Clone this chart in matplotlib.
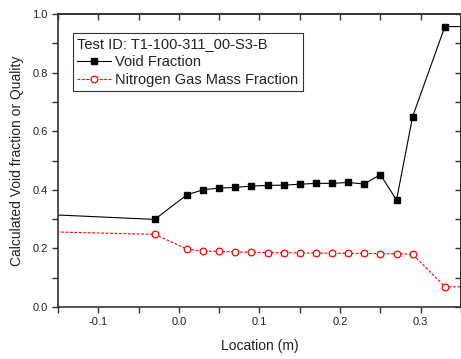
import matplotlib
matplotlib.use("Agg")
import matplotlib.pyplot as plt
from matplotlib.ticker import MultipleLocator

plt.rcParams['font.family'] = ['Liberation Sans', 'DejaVu Sans']
txt = '#222222'

location = [-0.27, -0.03, 0.01, 0.03, 0.05, 0.07, 0.09, 0.11, 0.13, 0.15, 0.17,
            0.19, 0.21, 0.23, 0.25, 0.27, 0.29, 0.33, 0.37]
void_fraction = [0.329, 0.299, 0.383, 0.400, 0.406, 0.408, 0.413, 0.415, 0.416,
                 0.419, 0.422, 0.422, 0.425, 0.420, 0.452, 0.365, 0.650, 0.957, 0.957]
n2_quality = [0.264, 0.248, 0.198, 0.190, 0.190, 0.188, 0.187, 0.186, 0.185,
              0.185, 0.184, 0.184, 0.183, 0.183, 0.182, 0.182, 0.180, 0.069, 0.069]

fig = plt.figure(figsize=(4.61, 3.59), dpi=100)
ax = fig.add_axes([0.1258, 0.1448, 0.8742, 0.8162])

ax.plot(location, void_fraction, color='black', lw=0.8, marker='s', ms=4.2,
        mfc='black', mec='black', label='Void Fraction')
ax.plot(location, n2_quality, color='red', lw=0.8, ls=(0, (2.5, 1.5)), marker='o', ms=4.8,
        mfc='white', mec='red', mew=0.9, label='Nitrogen Gas Mass Fraction')

ax.set_xlim(-0.15, 0.35)
ax.set_ylim(0.0, 1.0)
ax.xaxis.set_major_locator(MultipleLocator(0.1))
ax.xaxis.set_minor_locator(MultipleLocator(0.05))
ax.yaxis.set_major_locator(MultipleLocator(0.2))
ax.yaxis.set_minor_locator(MultipleLocator(0.1))
ax.tick_params(which='both', direction='out', top=False, right=False, labelsize=8,
               width=1.0, labelcolor=txt, color='#333333')
ax.tick_params(which='major', length=4)
ax.tick_params(which='minor', length=4)
ax.xaxis.set_major_formatter(matplotlib.ticker.FuncFormatter(lambda v, p: f"{v:.1f}"))
ax.yaxis.set_major_formatter(matplotlib.ticker.FuncFormatter(lambda v, p: f"{v:.1f}"))

sec_x = ax.secondary_xaxis('top')
sec_x.xaxis.set_major_locator(MultipleLocator(0.05))
sec_x.tick_params(direction='in', length=4, labeltop=False, width=1.0, color='#333333')
sec_y = ax.secondary_yaxis('right')
sec_y.yaxis.set_major_locator(MultipleLocator(0.1))
sec_y.tick_params(direction='in', length=4, labelright=False, width=1.0, color='#333333')

for s in ax.spines.values():
    s.set_linewidth(1.2)
    s.set_color('#333333')
sec_x.spines['top'].set_linewidth(1.2)
sec_x.spines['top'].set_color('#333333')
sec_y.spines['right'].set_linewidth(1.2)

ax.set_xlabel('Location (m)', fontsize=10, labelpad=8, color=txt)
ax.set_ylabel('Calculated Void fraction or Quality', fontsize=10, labelpad=6, color=txt)

leg = ax.legend(loc='upper left', bbox_to_anchor=(0.037, 0.935), borderaxespad=0,
                title='Test ID: T1-100-311_00-S3-B', title_fontsize=10.5, fontsize=10.5,
                frameon=True, fancybox=False, edgecolor='#333333', framealpha=1,
                handlelength=2.3, handletextpad=0.3, borderpad=0.3, labelspacing=0.25)
leg._legend_box.align = 'left'
leg.get_frame().set_linewidth(0.8)
for t in leg.get_texts():
    t.set_color(txt)
leg.get_title().set_color(txt)

fig.savefig('out.png', dpi=100)
